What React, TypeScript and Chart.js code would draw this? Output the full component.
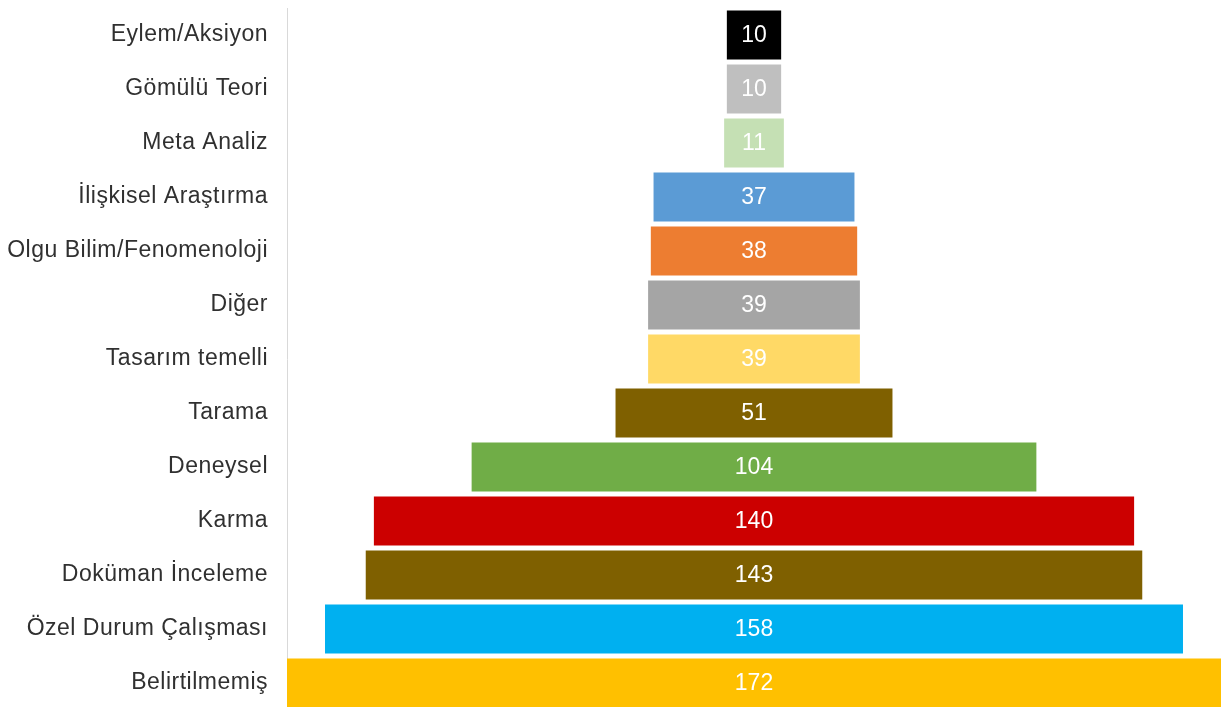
import React, { useEffect, useRef } from "react";
import { Chart, registerables } from "chart.js";

Chart.register(...registerables);

const categories = [
  "Eylem/Aksiyon",
  "Gömülü Teori",
  "Meta Analiz",
  "İlişkisel Araştırma",
  "Olgu Bilim/Fenomenoloji",
  "Diğer",
  "Tasarım temelli",
  "Tarama",
  "Deneysel",
  "Karma",
  "Doküman İnceleme",
  "Özel Durum Çalışması",
  "Belirtilmemiş",
];

const values = [10, 10, 11, 37, 38, 39, 39, 51, 104, 140, 143, 158, 172];

const barColors = [
  "#000000",
  "#BFBFBF",
  "#C5E0B4",
  "#5B9BD5",
  "#ED7D31",
  "#A5A5A5",
  "#FFD966",
  "#7F6000",
  "#70AD47",
  "#CC0000",
  "#7F6000",
  "#00B0F0",
  "#FFC000",
];

const FONT = "'Liberation Sans', Arial, sans-serif";

const spacing = {
  id: "spacing",
  beforeUpdate(chart: any) {
    chart.ctx.letterSpacing = "0.5px";
  },
  beforeDraw(chart: any) {
    chart.ctx.letterSpacing = "0.5px";
  },
};

const valueLabels = {
  id: "valueLabels",
  afterDatasetsDraw(chart: any) {
    const ctx = chart.ctx;
    const meta = chart.getDatasetMeta(0);
    ctx.save();
    ctx.letterSpacing = "0px";
    ctx.font = `23px ${FONT}`;
    ctx.fillStyle = "#ffffff";
    ctx.textAlign = "center";
    ctx.textBaseline = "middle";
    meta.data.forEach((el: any, i: number) => {
      const c = el.getCenterPoint();
      ctx.fillText(String(values[i]), c.x, c.y + 1);
    });
    ctx.restore();
  },
};

export default function App() {
  const ref = useRef<HTMLCanvasElement | null>(null);

  useEffect(() => {
    if (!ref.current) return;
    const maxV = Math.max(...values);
    const chart = new Chart(ref.current, {
      type: "bar",
      data: {
        labels: categories,
        datasets: [
          {
            data: values.map((v) => [-v / 2, v / 2]) as any,
            backgroundColor: barColors,
            borderWidth: 0,
            barPercentage: 0.91,
            categoryPercentage: 1,
          },
        ],
      },
      options: {
        indexAxis: "y",
        animation: false,
        responsive: true,
        maintainAspectRatio: false,
        layout: { padding: { top: 8, right: 1, bottom: 0, left: 0 } },
        plugins: {
          legend: { display: false },
          tooltip: { enabled: false },
        },
        scales: {
          x: {
            display: false,
            min: -maxV / 2,
            max: maxV / 2,
          },
          y: {
            grid: { display: false, drawTicks: false },
            border: { display: true, color: "#D9D9D9", width: 1 },
            ticks: {
              padding: 19,
              color: "#303030",
              font: { family: FONT, size: 23 },
            },
            afterFit: (scale: any) => {
              scale.width = 287;
              scale.paddingTop = 0;
              scale.paddingBottom = 0;
            },
          },
        },
      },
      plugins: [spacing, valueLabels],
    });
    return () => chart.destroy();
  }, []);

  return (
    <div
      style={{
        position: "fixed",
        left: 0,
        top: 0,
        width: 1222,
        height: 707,
        overflow: "hidden",
        background: "#ffffff",
      }}
    >
      <div style={{ position: "relative", width: 1222, height: 710 }}>
        <canvas ref={ref} />
      </div>
    </div>
  );
}
